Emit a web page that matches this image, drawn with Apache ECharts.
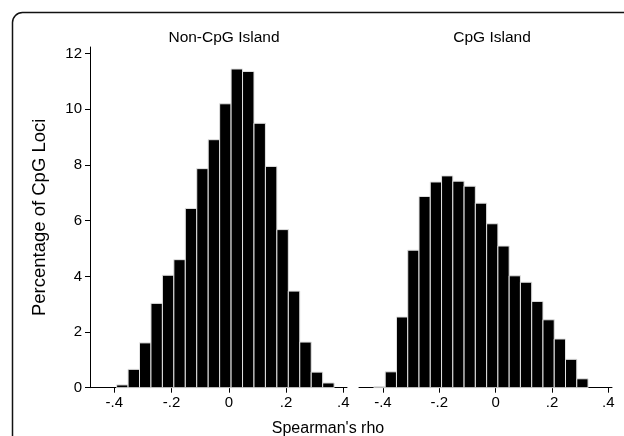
<!DOCTYPE html>
<html>
<head>
<meta charset="utf-8">
<script src="https://cdn.jsdelivr.net/npm/echarts@6/dist/echarts.min.js"></script>
<style>
  html, body { margin: 0; padding: 0; background: #fff; }
  #main { width: 624px; height: 436px; }
</style>
</head>
<body>
<div id="main"></div>
<script>
// bin lower edges (width .04) and percentages
const binWidth = 0.04;
const nonCpgBins = [-0.392, -0.352, -0.312, -0.272, -0.232, -0.192, -0.152, -0.112, -0.072, -0.032,
  0.008, 0.048, 0.088, 0.128, 0.168, 0.208, 0.248, 0.288, 0.328];
const nonCpgPct = [0.1, 0.66, 1.61, 3.03, 4.04, 4.6, 6.44, 7.87, 8.91, 10.2,
  11.45, 11.36, 9.5, 7.95, 5.68, 3.47, 1.64, 0.56, 0.17];
const cpgBins = [-0.432, -0.392, -0.352, -0.312, -0.272, -0.232, -0.192, -0.152, -0.112, -0.072,
  -0.032, 0.008, 0.048, 0.088, 0.128, 0.168, 0.208, 0.248, 0.288];
const cpgPct = [0.04, 0.57, 2.54, 4.94, 6.87, 7.39, 7.61, 7.42, 7.24, 6.63,
  5.89, 5.09, 4.02, 3.79, 3.1, 2.44, 1.75, 1.02, 0.32];
const xTicks = [-0.4, -0.2, 0, 0.2, 0.4];
const yTicks = [0, 2, 4, 6, 8, 10, 12];

const FONT = "'Liberation Sans', Arial, sans-serif";
const chart = echarts.init(document.getElementById('main'));

const toBars = (bins, vals) => bins.map((b, i) => [b, b + binWidth, vals[i]]);

// 直方图的每根柱子
const renderBar = (params, api) => {
  const p0 = api.coord([api.value(0), 0]);
  const p1 = api.coord([api.value(1), api.value(2)]);
  return {
    type: 'rect',
    shape: { x: p0[0], y: p1[1], width: p1[0] - p0[0], height: p0[1] - p1[1] },
    style: { fill: '#000', stroke: '#e2e2e2', lineWidth: 1 }
  };
};

const xAxisOf = (idx) => ({
  gridIndex: idx,
  type: 'value',
  min: -0.485,
  max: 0.413,
  axisLine: { show: true, lineStyle: { color: '#000', width: 1 } },
  axisTick: { show: true, length: 5, customValues: xTicks, lineStyle: { color: '#000' } },
  axisLabel: {
    customValues: xTicks,
    color: '#000', fontSize: 15, fontFamily: FONT, margin: 8,
    formatter: v => v === 0 ? '0' : (v < 0 ? '-' : '') + String(Math.abs(v)).replace(/^0/, '')
  },
  splitLine: { show: false }
});

const option = {
  animation: false,
  backgroundColor: '#fff',
  title: [
    { text: 'Non-CpG Island', left: 219, top: 25, textAlign: 'center',
      textStyle: { fontSize: 15.5, fontWeight: 'normal', color: '#000', fontFamily: FONT } },
    { text: 'CpG Island', left: 487, top: 25, textAlign: 'center',
      textStyle: { fontSize: 15.5, fontWeight: 'normal', color: '#000', fontFamily: FONT } },
    { text: "Spearman's rho", left: 323, top: 416, textAlign: 'center',
      textStyle: { fontSize: 16, fontWeight: 'normal', color: '#000', fontFamily: FONT } }
  ],
  graphic: [
    {
      type: 'rect',
      shape: { x: 12.5, y: 12.5, width: 700, height: 500, r: 10 },
      style: { fill: 'none', stroke: '#111', lineWidth: 1.5 },
      silent: true
    }
  ],
  grid: [
    { left: 90, top: 47, width: 257, height: 340.7 },
    { left: 359, top: 47, width: 253, height: 340.7 }
  ],
  xAxis: [xAxisOf(0), xAxisOf(1)],
  yAxis: [
    {
      gridIndex: 0, type: 'value', min: 0, max: 12.24,
      name: 'Percentage of CpG Loci', nameLocation: 'middle', nameGap: 41,
      nameTextStyle: { fontSize: 18.5, color: '#000', fontFamily: FONT },
      axisLine: { show: true, onZero: false, lineStyle: { color: '#000', width: 1 } },
      axisTick: { show: true, length: 5, customValues: yTicks, lineStyle: { color: '#000' } },
      axisLabel: { customValues: yTicks, color: '#000', fontSize: 15, fontFamily: FONT, margin: 8 },
      splitLine: { show: false }
    },
    {
      gridIndex: 1, type: 'value', min: 0, max: 12.24,
      axisLine: { show: false, onZero: false }, axisTick: { show: false },
      axisLabel: { show: false }, splitLine: { show: false }
    }
  ],
  series: [
    { type: 'custom', xAxisIndex: 0, yAxisIndex: 0, renderItem: renderBar,
      data: toBars(nonCpgBins, nonCpgPct), encode: { x: [0, 1], y: 2 } },
    { type: 'custom', xAxisIndex: 1, yAxisIndex: 1, renderItem: renderBar,
      data: toBars(cpgBins, cpgPct), encode: { x: [0, 1], y: 2 } }
  ]
};

chart.setOption(option);
</script>
</body>
</html>
